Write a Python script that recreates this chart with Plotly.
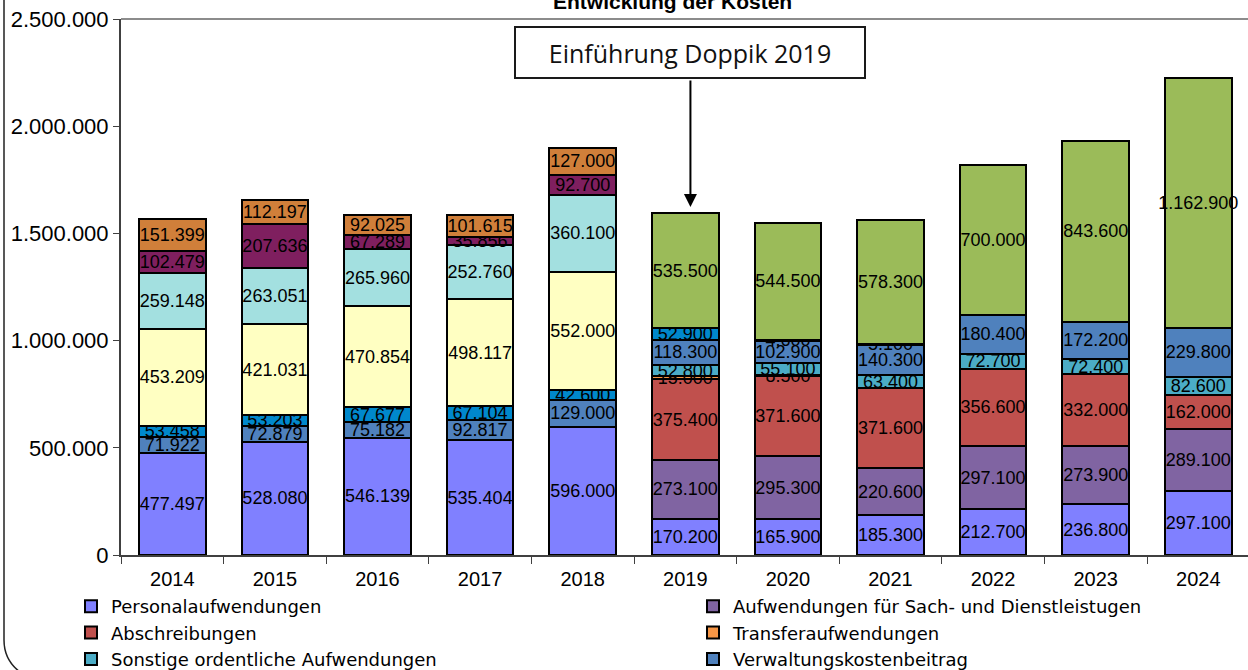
import plotly.graph_objects as go

years = ["2014", "2015", "2016", "2017", "2018", "2019", "2020", "2021", "2022", "2023", "2024"]

personal = [477497, 528080, 546139, 535404, 596000, 170200, 165900, 185300, 212700, 236800, 297100]
sach = [0, 0, 0, 0, 0, 273100, 295300, 220600, 297100, 273900, 289100]
abschreibungen = [0, 0, 0, 0, 0, 375400, 371600, 371600, 356600, 332000, 162000]
transfer = [0, 0, 0, 0, 0, 15000, 8500, 0, 0, 0, 0]
sonstige = [0, 0, 0, 0, 0, 52800, 55100, 63400, 72700, 72400, 82600]
verwaltung = [71922, 72879, 75182, 92817, 129000, 118300, 102900, 140300, 180400, 172200, 229800]
serie7 = [53458, 53203, 67677, 67104, 42600, 52900, 4600, 5100, 0, 0, 0]
serie8 = [453209, 421031, 470854, 498117, 552000, 0, 0, 0, 0, 0, 0]
serie9 = [259148, 263051, 265960, 252760, 360100, 0, 0, 0, 0, 0, 0]
serie10 = [102479, 207636, 67289, 35856, 92700, 0, 0, 0, 0, 0, 0]
serie11 = [151399, 112197, 92025, 101615, 127000, 0, 0, 0, 0, 0, 0]
serie12 = [0, 0, 0, 0, 0, 535500, 544500, 578300, 700000, 843600, 1162900]

y_ticks = [0, 500000, 1000000, 1500000, 2000000, 2500000]

title_text = "Entwicklung der Kosten"
note_text = "Einführung Doppik 2019"

series = [
    ("Personalaufwendungen", personal, "#8080FF", True),
    ("Aufwendungen für Sach- und Dienstleistugen", sach, "#8064A2", True),
    ("Abschreibungen", abschreibungen, "#C0504D", True),
    ("Transferaufwendungen", transfer, "#F79646", True),
    ("Sonstige ordentliche Aufwendungen", sonstige, "#4BACC6", True),
    ("Verwaltungskostenbeitrag", verwaltung, "#4F81BD", True),
    ("Serie 7", serie7, "#0088CC", False),
    ("Serie 8", serie8, "#FFFFC2", False),
    ("Serie 9", serie9, "#A3E0E0", False),
    ("Serie 10", serie10, "#7F1F5F", False),
    ("Serie 11", serie11, "#D07F3A", False),
    ("Serie 12", serie12, "#9BBB59", False),
]


def de(v):
    return f"{v:,}".replace(",", ".")


fig = go.Figure()
for name, vals, color, show in series:
    fig.add_trace(go.Bar(
        name=name,
        x=years,
        y=[v if v else None for v in vals],
        text=[de(v) if v else "" for v in vals],
        textposition="inside",
        insidetextanchor="middle",
        textangle=0,
        constraintext="none",
        insidetextfont=dict(family="Liberation Sans", size=18, color="black"),
        marker=dict(color=color, line=dict(color="black", width=2)),
        width=0.65,
        showlegend=show,
        hoverinfo="skip",
    ))

W, H = 1248, 670
L, R, T, B = 121, 0, 19, 115
PW, PH = W - L - R, H - T - B
cat = 102.6


def px_x(p):
    return (p - L) / PW


def px_y(p):
    return (H - B - p) / PH


frame_path = (
    f"M {px_x(4)},{px_y(-5)} L {px_x(4)},{px_y(640)} "
    f"Q {px_x(4)},{px_y(660)} {px_x(20)},{px_y(672)}"
)

fig.update_layout(
    width=W, height=H,
    margin=dict(l=L, r=R, t=T, b=B, autoexpand=False),
    barmode="stack",
    plot_bgcolor="white",
    paper_bgcolor="white",
    font=dict(family="Liberation Sans", size=20, color="black"),
    xaxis=dict(
        type="category",
        range=[-0.5, -0.5 + PW / cat],
        showgrid=False,
        showline=True, linecolor="#404040", linewidth=2,
        ticks="outside", ticklen=7, tickcolor="#404040", tickwidth=1,
        tickson="boundaries",
        ticklabelstandoff=5,
        tickfont=dict(size=20),
    ),
    yaxis=dict(
        range=[0, 2500000],
        tickvals=y_ticks,
        ticktext=[de(v) for v in y_ticks],
        showgrid=False, zeroline=False,
        showline=True, linecolor="#404040", linewidth=2,
        ticks="outside", ticklen=6, tickcolor="#404040",
        tickfont=dict(size=22),
    ),
    legend=dict(
        orientation="h",
        x=px_x(71), xanchor="left",
        y=px_y(588), yanchor="top",
        entrywidthmode="pixels", entrywidth=577,
        font=dict(family="DejaVu Sans", size=18),
        traceorder="normal",
        itemclick=False,
    ),
    shapes=[
        dict(type="line", xref="paper", yref="paper", x0=0, x1=1.01, y0=1, y1=1,
             line=dict(color="#8c8c8c", width=2)),
        dict(type="path", xref="paper", yref="paper", path=frame_path,
             line=dict(color="#222222", width=1.5)),
    ],
    annotations=[
        dict(text=f"<b>{title_text}</b>", xref="paper", yref="paper",
             x=px_x(672), y=1, xanchor="center", yanchor="middle", yshift=18,
             showarrow=False, font=dict(size=21)),
        dict(text=note_text, xref="x", yref="paper", x=5.05, y=px_y(52.5),
             xanchor="center", yanchor="middle", showarrow=False,
             width=346, height=47, bordercolor="#1a1a1a", borderwidth=2,
             bgcolor="white", font=dict(family="Open Sans", size=25, color="#111111")),
        dict(text="", xref="x", yref="y", x=5.05, y=1623000, ax=0, ay=-128,
             showarrow=True, arrowhead=2, arrowsize=1.3, arrowwidth=2, arrowcolor="black"),
    ],
)

fig.write_html(
    "out.html",
    config={"displayModeBar": False},
    post_script="document.body.style.margin='0';document.body.style.overflow='hidden';",
)
